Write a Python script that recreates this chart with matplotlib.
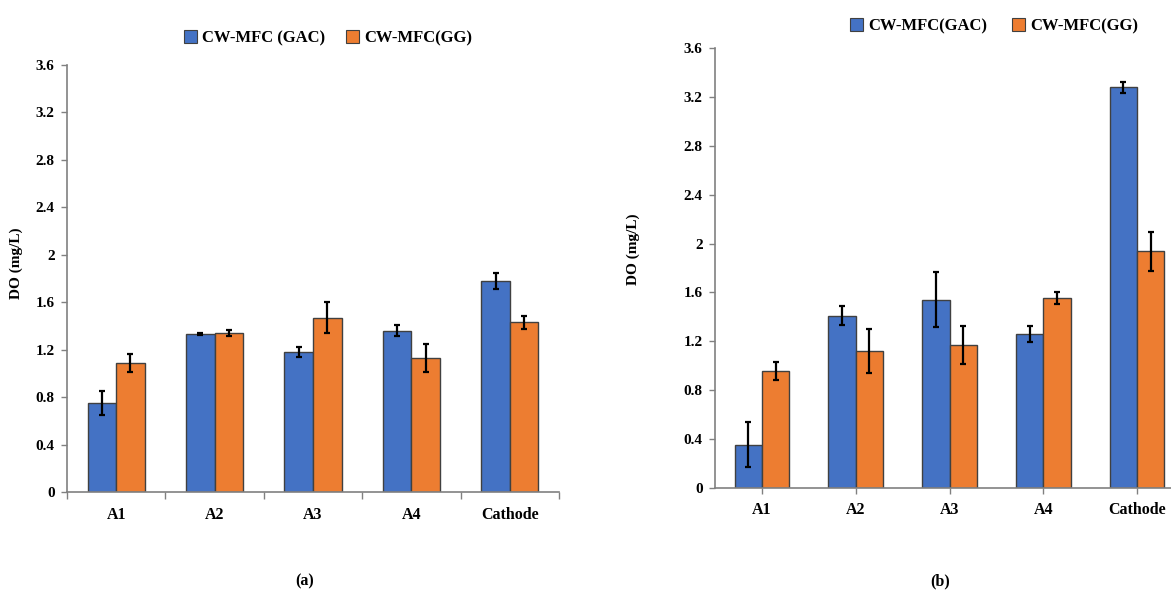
import matplotlib
matplotlib.use("Agg")
from matplotlib import pyplot as plt
from matplotlib.patches import Patch
import numpy as np

plt.rcParams['font.family'] = ['Liberation Serif', 'DejaVu Serif']
plt.rcParams['font.weight'] = 'bold'

categories = ["A1", "A2", "A3", "A4", "Cathode"]
yticks = [0, 0.4, 0.8, 1.2, 1.6, 2, 2.4, 2.8, 3.2, 3.6]
ytick_labels = ["0", "0.4", "0.8", "1.2", "1.6", "2", "2.4", "2.8", "3.2", "3.6"]

# panel (a)
gac_a = [0.75, 1.33, 1.18, 1.36, 1.78]
gac_a_err = [0.105, 0.01, 0.04, 0.045, 0.068]
gg_a = [1.09, 1.34, 1.47, 1.13, 1.43]
gg_a_err = [0.075, 0.025, 0.13, 0.115, 0.055]

# panel (b)
gac_b = [0.355, 1.41, 1.54, 1.26, 3.28]
gac_b_err = [0.185, 0.08, 0.225, 0.063, 0.045]
gg_b = [0.96, 1.12, 1.17, 1.555, 1.935]
gg_b_err = [0.075, 0.18, 0.155, 0.05, 0.16]

BLUE = "#4472C4"
ORANGE = "#ED7D31"
W, H = 1171, 590

fig = plt.figure(figsize=(W / 100, H / 100), dpi=100)


def draw_panel(ax, gac, gac_err, gg, gg_err, ticks_between):
    x = np.arange(len(categories))
    bw = 0.29
    ebar = dict(ecolor="black", elinewidth=1.6, capsize=2.5, capthick=1.6)
    ax.bar(x - bw / 2, gac, bw, yerr=gac_err, color=BLUE, edgecolor="#404040",
           linewidth=1, error_kw=ebar, zorder=2)
    ax.bar(x + bw / 2, gg, bw, yerr=gg_err, color=ORANGE, edgecolor="#404040",
           linewidth=1, error_kw=ebar, zorder=2)
    ax.set_xlim(-0.5, len(categories) - 0.5)
    ax.set_ylim(0, 3.6)
    ax.set_yticks(yticks)
    ax.set_yticklabels(ytick_labels, fontsize=11, fontweight="bold")
    for s in ["top", "right"]:
        ax.spines[s].set_visible(False)
    for s in ["left", "bottom"]:
        ax.spines[s].set_color("#808080")
        ax.spines[s].set_linewidth(1.2)
    ax.tick_params(axis="y", length=4, width=1, color="#808080", pad=5)
    if ticks_between:
        # ticks sit between the groups, labels at the group centres
        ax.set_xticks(np.arange(len(categories) + 1) - 0.5)
        ax.set_xticklabels([])
        ax.tick_params(axis="x", which="major", length=5, width=1, color="#808080")
        ax.set_xticks(x, minor=True)
        ax.set_xticklabels(categories, minor=True, fontsize=11.5, fontweight="bold")
        ax.tick_params(axis="x", which="minor", length=0, pad=11)
    else:
        ax.set_xticks(x)
        ax.set_xticklabels(categories, fontsize=11.5, fontweight="bold")
        ax.tick_params(axis="x", length=4, width=1, color="#808080", pad=6)


# left panel (a)
ax1 = fig.add_axes([67 / W, (H - 492) / H, 492 / W, 427 / H])
draw_panel(ax1, gac_a, gac_a_err, gg_a, gg_a_err, True)
ax1.set_ylabel("DO (mg/L)", fontsize=11, fontweight="bold")
ax1.yaxis.set_label_coords(-0.09, 0.536)

# right panel (b), cut at right edge like the original
ax2 = fig.add_axes([715 / W, (H - 488) / H, 469 / W, 440 / H])
draw_panel(ax2, gac_b, gac_b_err, gg_b, gg_b_err, False)
ax2.set_ylabel("DO (mg/L)", fontsize=11, fontweight="bold")
ax2.yaxis.set_label_coords(-0.16, 0.543)

handles = [Patch(facecolor=BLUE, edgecolor="#404040", linewidth=0.8),
           Patch(facecolor=ORANGE, edgecolor="#404040", linewidth=0.8)]
fig.legend(handles, ["CW-MFC (GAC)", "CW-MFC(GG)"], loc="center",
           bbox_to_anchor=(328 / W, 1 - 38 / H), ncol=2, frameon=False,
           prop=dict(size=12, weight="bold"), handlelength=0.8, handleheight=0.8,
           handletextpad=0.3, columnspacing=1.2)
fig.legend(handles, ["CW-MFC(GAC)", "CW-MFC(GG)"], loc="center",
           bbox_to_anchor=(994 / W, 1 - 26 / H), ncol=2, frameon=False,
           prop=dict(size=12, weight="bold"), handlelength=0.8, handleheight=0.8,
           handletextpad=0.3, columnspacing=1.5)

fig.text(305 / W, 1 - 581 / H, "(a)", ha="center", va="center", fontsize=11.5, fontweight="bold")
fig.text(940 / W, 1 - 581 / H, "(b)", ha="center", va="center", fontsize=11.5, fontweight="bold")

fig.savefig("out.png", dpi=100)
